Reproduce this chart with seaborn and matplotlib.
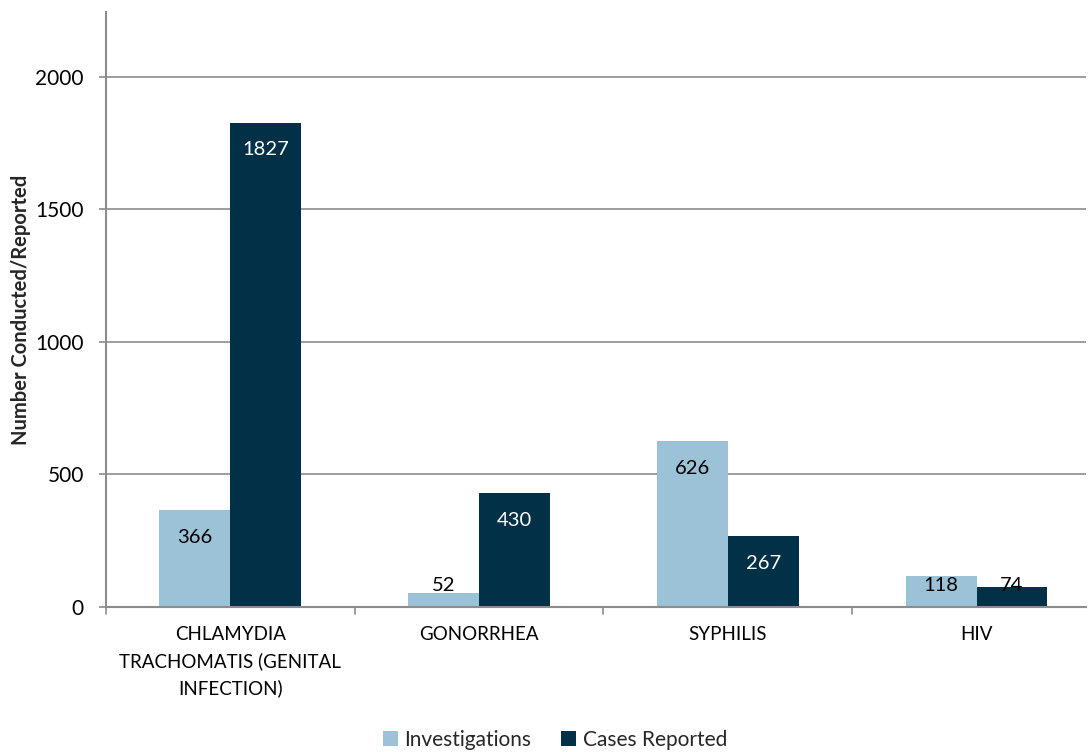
import matplotlib
matplotlib.use("Agg")
import matplotlib.pyplot as plt
import seaborn as sns
import pandas as pd
from matplotlib.patches import Patch

categories = ["CHLAMYDIA\nTRACHOMATIS (GENITAL\nINFECTION)", "GONORRHEA", "SYPHILIS", "HIV"]
series_names = ["Investigations", "Cases Reported"]
investigations = [366, 52, 626, 118]
cases_reported = [1827, 430, 267, 74]
y_ticks = [0, 500, 1000, 1500, 2000]

light_blue = "#9bc2d6"
dark_navy = "#023047"
grid_gray = "#8c8c8c"

df = pd.DataFrame({
    "Category": categories * 2,
    "Series": [series_names[0]] * 4 + [series_names[1]] * 4,
    "Value": investigations + cases_reported,
})

sns.set_theme(style="white")
plt.rcParams["font.family"] = ["Lato", "DejaVu Sans"]

fig = plt.figure(figsize=(10.88, 7.52), dpi=100)
ax = fig.add_axes([106 / 1088, 1 - 607 / 752, 980 / 1088, 595 / 752])

sns.barplot(data=df, x="Category", y="Value", hue="Series", order=categories,
            hue_order=series_names, palette=[light_blue, dark_navy],
            width=0.57, saturation=1, edgecolor="none", ax=ax, legend=False)

# the plot area runs a little past the right edge of the figure
ax.set_xlim(-0.5, 3.44)
ax.set_ylim(0, 2245)
ax.set_yticks(y_ticks)
ax.yaxis.grid(True, color=grid_gray, linewidth=1.2)
ax.set_axisbelow(True)

for side in ["top", "right"]:
    ax.spines[side].set_visible(False)
for side in ["left", "bottom"]:
    ax.spines[side].set_color(grid_gray)
    ax.spines[side].set_linewidth(1.5)

ax.tick_params(axis="y", length=5, width=1.2, color=grid_gray, labelsize=15,
               labelcolor="black", pad=11, left=True)
ax.set_xticks(range(len(categories)))
ax.set_xticklabels(categories, fontsize=13.5, linespacing=1.6)
ax.tick_params(axis="x", length=0, pad=14, labelcolor="black")
# boundary tick marks between categories
for b in [i - 0.5 for i in range(len(categories))]:
    ax.plot([b, b], [0, -0.012], transform=ax.get_xaxis_transform(), color=grid_gray,
            linewidth=1.2, clip_on=False)

ax.set_xlabel("")
ax.set_ylabel("Number Conducted/Reported", fontsize=14.5, fontweight="bold", labelpad=3)

# value labels, inside the top of each bar, kept clear of the baseline
inset = 102
floor = 83
for container, vals, inside_color in zip(ax.containers, [investigations, cases_reported],
                                         ["black", "white"]):
    for bar, v in zip(container, vals):
        cx = bar.get_x() + bar.get_width() / 2
        y = max(v - inset, floor)
        inside = (v - inset) >= floor
        color = inside_color if inside else "black"
        ax.text(cx, y, f"{v}", ha="center", va="center", fontsize=14.5, color=color)

handles = [Patch(facecolor=light_blue, edgecolor="none", label=series_names[0]),
           Patch(facecolor=dark_navy, edgecolor="none", label=series_names[1])]
fig.legend(handles=handles, loc="lower center", bbox_to_anchor=(0.51, -0.022), ncol=2,
           frameon=False, fontsize=15, handlelength=0.75, handleheight=0.75,
           handletextpad=0.3, columnspacing=1.4)

fig.savefig("out.png", dpi=100)
